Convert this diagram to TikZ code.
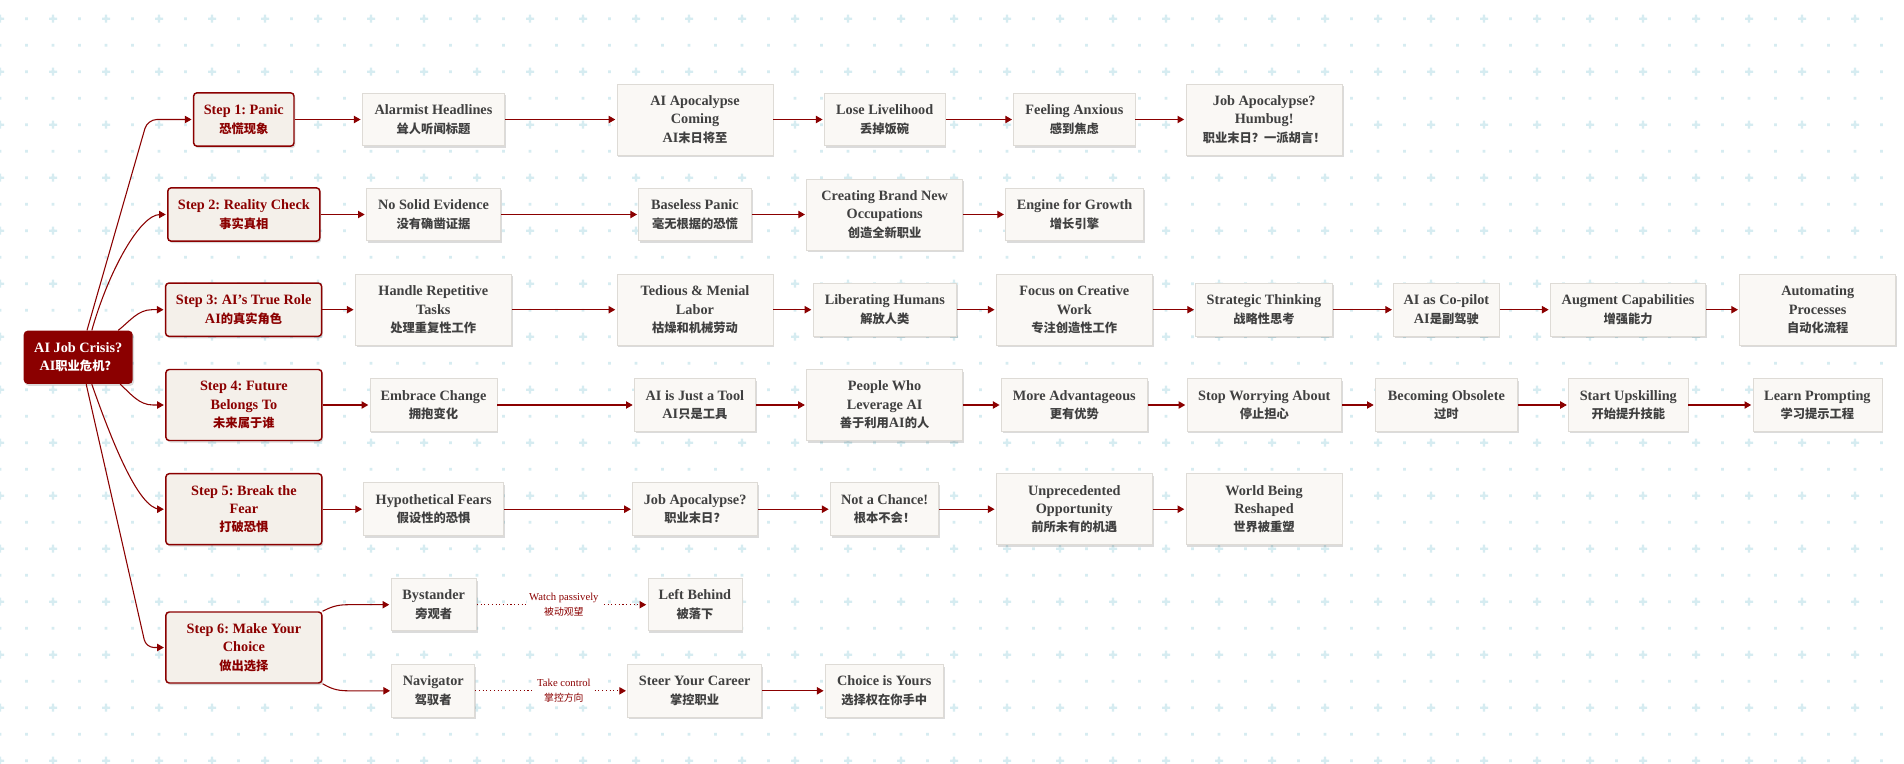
\documentclass[tikz,border=0pt]{standalone}
\usepackage{fontspec}
\setmainfont{Liberation Serif}
\newfontfamily\cjkfont{Noto Sans CJK SC}[Scale=0.86]
\usetikzlibrary{arrows.meta,shadows,calc}
\definecolor{dred}{RGB}{139,0,0}
\definecolor{gridc}{RGB}{214,236,241}
\definecolor{stepfill}{RGB}{244,240,234}
\definecolor{boxfill}{RGB}{250,248,245}
\definecolor{boxline}{RGB}{222,219,214}
\definecolor{txt}{RGB}{64,64,64}
\newcommand\zhtxt[1]{{\cjkfont #1}}
\newcommand\zhlab[1]{{\cjkfont\fontsize{8.6}{11.8}\selectfont #1}}
\frenchspacing
\begin{document}
\begin{tikzpicture}[x=0.75pt,y=-0.75pt,
  wh/.style 2 args={minimum width=#1*0.75pt, minimum height=#2*0.75pt},
  base/.style={align=center, inner sep=0pt, font=\bfseries\fontsize{10.7}{13.8}\selectfont},
  shad/.style={drop shadow={shadow xshift=1pt, shadow yshift=-1.5pt, opacity=0.14, fill=black}},
  rootbox/.style={base, shad, fill=dred, text=white, rounded corners=3pt},
  stepbox/.style={base, shad, fill=stepfill, draw=dred, line width=1.1pt, rounded corners=2.5pt, text=dred},
  cbox/.style={base, shad, fill=boxfill, draw=boxline, line width=0.6pt, text=txt},
  edge/.style={draw=dred, line width=0.8pt, shorten >=1pt, -{Triangle[length=5pt,width=5.5pt]}},
  dotedge/.style={edge, dotted},
  elabel/.style={fill=white, inner sep=1.5pt, align=center, text=dred, font=\fontsize{8}{11.8}\selectfont},
]
% background and grid
\fill[white] (0,0) rectangle (1904,764);
\useasboundingbox (0,0) rectangle (1904,764);
\fill[gridc] \foreach \k in {0,...,71}{ \foreach \j in {0,...,28}{ ({\k*26.5-1.4},{18.7+\j*26.5-1.4}) rectangle ++(2.8,2.8) } };
\fill[gridc] \foreach \k in {0,2,...,70}{ \foreach \j in {0,2,...,28}{ ({\k*26.5-4},{18.7+\j*26.5-1.1}) rectangle ++(8,2.2) ({\k*26.5-1.1},{18.7+\j*26.5-4}) rectangle ++(2.2,8) } };

% root
\node[rootbox, wh={109}{53.3}] (root) at (78.2,357.3) {AI Job Crisis?\\AI\zhtxt{职业危机？}};

% row 1
\node[stepbox, wh={100.4}{53.3}] (step1) at (243.8,119.5) {Step 1: Panic\\\zhtxt{恐慌现象}};
\node[cbox, wh={142.4}{52.7}] (alarm) at (433.5,119.5) {Alarmist Headlines\\\zhtxt{耸人听闻标题}};
\node[cbox, wh={156}{71}] (apoc) at (695,119.5) {AI Apocalypse\\Coming\\AI\zhtxt{末日将至}};
\node[cbox, wh={120.8}{52.7}] (lose) at (884.7,119.5) {Lose Livelihood\\\zhtxt{丢掉饭碗}};
\node[cbox, wh={121.3}{52.7}] (feel) at (1074.4,119.5) {Feeling Anxious\\\zhtxt{感到焦虑}};
\node[cbox, wh={156.6}{71}] (humbug) at (1264.2,119.5) {Job Apocalypse?\\Humbug!\\\zhtxt{职业末日？一派胡言！}};

% row 2
\node[stepbox, wh={152}{53.3}] (step2) at (243.8,214.5) {Step 2: Reality Check\\\zhtxt{事实真相}};
\node[cbox, wh={134.2}{52.7}] (nosolid) at (433.5,214.5) {No Solid Evidence\\\zhtxt{没有确凿证据}};
\node[cbox, wh={112.4}{52.7}] (baseless) at (695,214.5) {Baseless Panic\\\zhtxt{毫无根据的恐慌}};
\node[cbox, wh={156}{71}] (creating) at (884.7,214.5) {Creating Brand New\\Occupations\\\zhtxt{创造全新职业}};
\node[cbox, wh={137.7}{52.7}] (engine) at (1074.5,214.5) {Engine for Growth\\\zhtxt{增长引擎}};

% row 3
\node[stepbox, wh={156}{53.3}] (step3) at (243.6,309.7) {Step 3: AI's True Role\\AI\zhtxt{的真实角色}};
\node[cbox, wh={156}{71}] (handle) at (433.3,309.7) {Handle Repetitive\\Tasks\\\zhtxt{处理重复性工作}};
\node[cbox, wh={156}{71}] (tedious) at (695,309.7) {Tedious \& Menial\\Labor\\\zhtxt{枯燥和机械劳动}};
\node[cbox, wh={143.5}{52.7}] (liberating) at (884.8,309.7) {Liberating Humans\\\zhtxt{解放人类}};
\node[cbox, wh={156}{71}] (focus) at (1074.3,309.7) {Focus on Creative\\Work\\\zhtxt{专注创造性工作}};
\node[cbox, wh={136.7}{52.7}] (strategic) at (1264,309.7) {Strategic Thinking\\\zhtxt{战略性思考}};
\node[cbox, wh={105.5}{52.7}] (copilot) at (1446.4,309.7) {AI as Co-pilot\\AI\zhtxt{是副驾驶}};
\node[cbox, wh={155.5}{52.7}] (augment) at (1628.1,309.7) {Augment Capabilities\\\zhtxt{增强能力}};
\node[cbox, wh={156}{71}] (automating) at (1817.7,309.7) {Automating\\Processes\\\zhtxt{自动化流程}};

% row 4
\node[stepbox, wh={156}{71}] (step4) at (243.9,405) {Step 4: Future\\Belongs To\\\zhtxt{未来属于谁}};
\node[cbox, wh={127}{52.7}] (embrace) at (433.5,405) {Embrace Change\\\zhtxt{拥抱变化}};
\node[cbox, wh={121}{52.7}] (tool) at (694.9,405) {AI is Just a Tool\\AI\zhtxt{只是工具}};
\node[cbox, wh={156}{71}] (people) at (884.6,405) {People Who\\Leverage AI\\\zhtxt{善于利用}AI\zhtxt{的人}};
\node[cbox, wh={146}{52.7}] (more) at (1074.3,405) {More Advantageous\\\zhtxt{更有优势}};
\node[cbox, wh={154.6}{52.7}] (stop) at (1264.3,405) {Stop Worrying About\\\zhtxt{停止担心}};
\node[cbox, wh={142}{52.7}] (becoming) at (1446.4,405) {Becoming Obsolete\\\zhtxt{过时}};
\node[cbox, wh={119.4}{52.7}] (start) at (1628.3,405) {Start Upskilling\\\zhtxt{开始提升技能}};
\node[cbox, wh={129}{52.7}] (learn) at (1817.4,405) {Learn Prompting\\\zhtxt{学习提示工程}};

% row 5
\node[stepbox, wh={156}{71}] (step5) at (243.9,509.2) {Step 5: Break the\\Fear\\\zhtxt{打破恐惧}};
\node[cbox, wh={140}{52.7}] (hypo) at (433.7,509.2) {Hypothetical Fears\\\zhtxt{假设性的恐惧}};
\node[cbox, wh={125}{52.7}] (jobapoc) at (695.1,509.2) {Job Apocalypse?\\\zhtxt{职业末日？}};
\node[cbox, wh={108.5}{52.7}] (notchance) at (884.6,509.2) {Not a Chance!\\\zhtxt{根本不会！}};
\node[cbox, wh={156}{71}] (unprec) at (1074.3,509.2) {Unprecedented\\Opportunity\\\zhtxt{前所未有的机遇}};
\node[cbox, wh={156}{71}] (world) at (1264,509.2) {World Being\\Reshaped\\\zhtxt{世界被重塑}};

% row 6
\node[stepbox, wh={156}{71}] (step6) at (243.9,647.5) {Step 6: Make Your\\Choice\\\zhtxt{做出选择}};
\node[cbox, wh={85.5}{52}] (bystander) at (433.7,604.7) {Bystander\\\zhtxt{旁观者}};
\node[cbox, wh={83}{52.3}] (navigator) at (433.3,690.8) {Navigator\\\zhtxt{驾驭者}};
\node[cbox, wh={94}{52}] (leftbehind) at (694.9,604.7) {Left Behind\\\zhtxt{被落下}};
\node[cbox, wh={134}{52.3}] (steer) at (694.7,690.8) {Steer Your Career\\\zhtxt{掌控职业}};
\node[cbox, wh={118}{52.3}] (choice) at (884.3,690.8) {Choice is Yours\\\zhtxt{选择权在你手中}};

% root to steps
\draw[edge, rounded corners=7pt] ($(root.north)+(8.8,0)$) -- (147.5,119.5) -- (step1.west);
\draw[edge] ($(root.north)+(13.6,0)$) .. controls (108.6,271) and (140,214.5) .. (160,214.5) -- (step2.west);
\draw[edge] ($(root.north)+(40,0)$) .. controls (130,321) and (138,309.7) .. (152,309.7) -- (step3.west);
\draw[edge] ($(root.south)+(42,0)$) .. controls (131,394) and (139,405) .. (153,405) -- (step4.west);
\draw[edge] ($(root.south)+(13.6,0)$) .. controls (110,436) and (138,509.2) .. (160,509.2) -- (step5.west);
\draw[edge, rounded corners=6pt] ($(root.south)+(8,0)$) -- (146,647.5) -- (step6.west);

% chains
\foreach \a/\b in {step1/alarm, alarm/apoc, apoc/lose, lose/feel, feel/humbug,
  step2/nosolid, nosolid/baseless, baseless/creating, creating/engine,
  step3/handle, handle/tedious, tedious/liberating, liberating/focus, focus/strategic, strategic/copilot, copilot/augment, augment/automating,
  step4/embrace, embrace/tool, tool/people, people/more, more/stop, stop/becoming, becoming/start, start/learn,
  step5/hypo, hypo/jobapoc, jobapoc/notchance, notchance/unprec, unprec/world,
  steer/choice}
  \draw[edge] (\a) -- (\b);

% step 6 branches
\draw[edge] (step6.north east) .. controls (330,607.5) and (336,604.7) .. (348,604.7) -- (bystander.west);
\draw[edge] (step6.south east) .. controls (330,688) and (336,690.8) .. (348,690.8) -- (navigator.west);
\draw[dotedge] (bystander) -- node[elabel, pos=0.51] {Watch passively\\\zhlab{被动观望}} (leftbehind);
\draw[dotedge] (navigator) -- node[elabel, pos=0.583] {Take control\\\zhlab{掌控方向}} (steer);
\end{tikzpicture}
\end{document}
